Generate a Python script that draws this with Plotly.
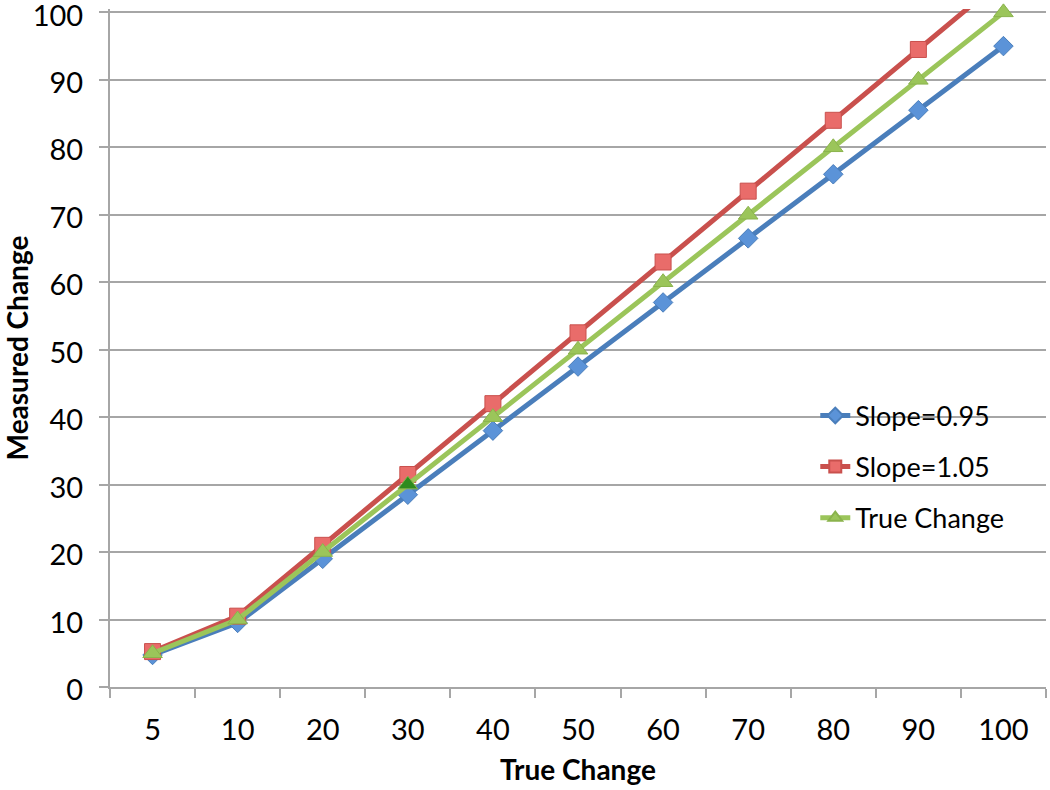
import plotly.graph_objects as go

categories = ["5", "10", "20", "30", "40", "50", "60", "70", "80", "90", "100"]
slope_095 = [4.75, 9.5, 19, 28.5, 38, 47.5, 57, 66.5, 76, 85.5, 95]
slope_105 = [5.25, 10.5, 21, 31.5, 42, 52.5, 63, 73.5, 84, 94.5, 105]
true_change = [5, 10, 20, 30, 40, 50, 60, 70, 80, 90, 100]
y_ticks = [0, 10, 20, 30, 40, 50, 60, 70, 80, 90, 100]

FONT = "Lato, Carlito, 'Open Sans', sans-serif"
GRID = "#a6a6a6"

green_marker_colors = ["#9bc55a"] * len(categories)
green_marker_colors[3] = "#2e8b1e"

fig = go.Figure()
fig.add_trace(go.Scatter(
    x=categories, y=slope_095, name="Slope=0.95", mode="lines+markers", legendgroup="a",
    line=dict(color="#4a7ebb", width=5),
    marker=dict(symbol="diamond", size=15, color="#5b93d8", line=dict(color="#4a7ebb", width=1)),
))
fig.add_trace(go.Scatter(
    x=categories, y=slope_105, name="Slope=1.05", mode="lines+markers", legendgroup="b",
    line=dict(color="#c9504d", width=5),
    marker=dict(symbol="square", size=16, color="#e96c6a", line=dict(color="#c9504d", width=1)),
))
fig.add_trace(go.Scatter(
    x=categories, y=true_change, name="True Change", mode="lines+markers", legendgroup="c",
    line=dict(color="#9bc55a", width=5),
    marker=dict(symbol="triangle-up", size=17, color=green_marker_colors, line=dict(color="#8ab34c", width=1)),
    cliponaxis=False,
))

fig.update_layout(
    width=1050, height=790,
    margin=dict(l=110, r=4, t=9, b=103),
    paper_bgcolor="white", plot_bgcolor="white",
    font=dict(family=FONT, size=29, color="black"),
    legend=dict(
        x=0.7535, y=0.436, xanchor="left", yanchor="top",
        bgcolor="rgba(255,255,255,0)", font=dict(size=27),
        tracegroupgap=13, itemsizing="constant",
    ),
    xaxis=dict(
        type="category", range=[-0.5, len(categories) - 0.5],
        showgrid=False, showline=True, linecolor=GRID, linewidth=2,
        ticks="outside", tickson="boundaries", ticklen=9, tickcolor=GRID, tickwidth=2,
        ticklabelstandoff=16, automargin=False, ticklabeloverflow="allow",
        tickfont=dict(size=29),
        title=dict(text="<b>True Change</b>", font=dict(size=28), standoff=16),
    ),
    yaxis=dict(
        range=[0, 100.5], tickvals=y_ticks, showgrid=True, gridcolor=GRID, gridwidth=2,
        showline=True, linecolor=GRID, linewidth=2, zeroline=False,
        ticks="outside", ticklen=9, tickcolor=GRID, tickwidth=2,
        ticklabelstandoff=10, ticklabelshift=3, automargin=False, ticklabeloverflow="allow",
        tickfont=dict(size=29),
        title=dict(text="<b>Measured Change</b>", font=dict(size=28), standoff=10),
    ),
)

fig.write_html("out.html", config={"displayModeBar": False},
               post_script="document.body.style.margin='0';")
